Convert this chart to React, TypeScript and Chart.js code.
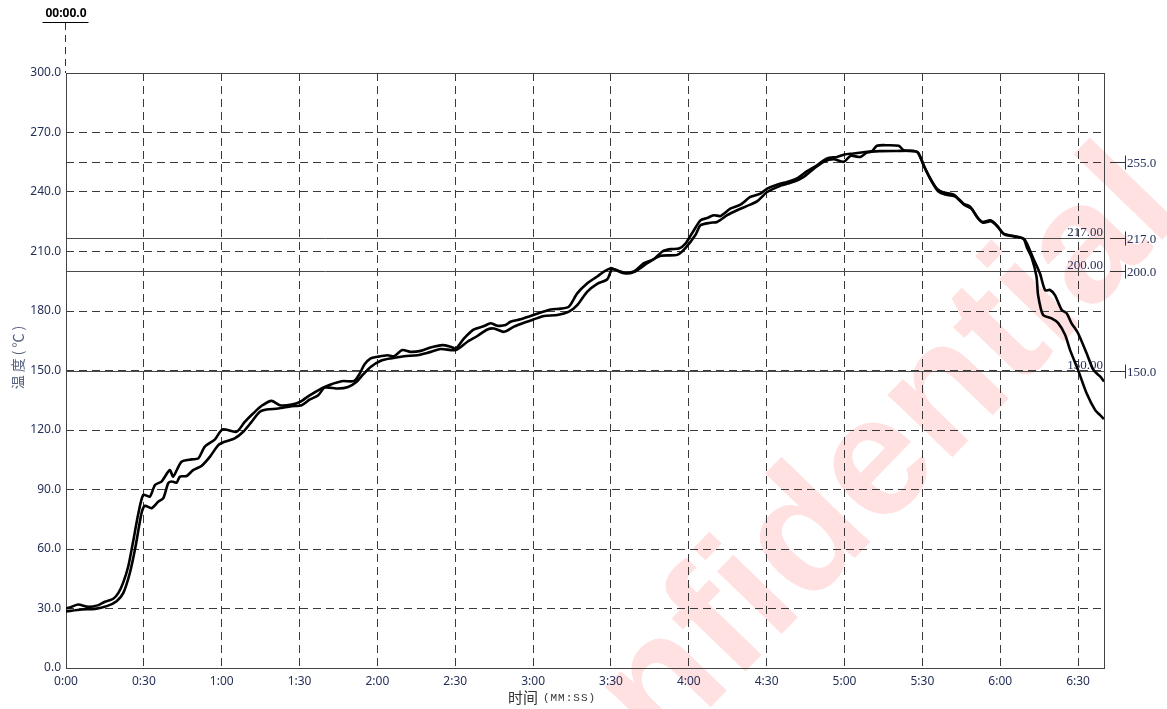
import React, { useEffect, useRef } from "react";
import { Chart, registerables } from "chart.js";

Chart.register(...registerables);

// ---- data (seconds / °C) ----
const timeA = [0, 2, 4.7, 8.6, 12.5, 15, 18.2, 20.2, 22, 24, 26, 27.9, 29.8, 32.3, 34.3, 36.8, 40, 41.3, 44.5, 48.4, 51, 53.5, 57.4, 60.3, 65.7, 68.9, 72.1, 75.4, 79.2, 82.4, 86.9, 90.2, 93.9, 99.7, 106.2, 111, 113, 115, 117.4, 120, 123.9, 126.4, 129.6, 132.8, 136.7, 140.5, 145, 148.2, 150.2, 153.4, 157.2, 161.1, 163.6, 166.2, 169.4, 171.3, 175.2, 179, 182.9, 186.8, 190.6, 193.8, 197, 200.9, 204.7, 207.3, 209.9, 211.1, 215, 218.8, 222.7, 226.5, 229.8, 233, 236.2, 238.7, 241.3, 244.5, 247.1, 249.6, 252.2, 256, 259.9, 263.7, 267.6, 270.2, 274, 277.9, 281.7, 285.6, 289.4, 293.3, 297.1, 300, 303.5, 308, 310.6, 312.5, 316.4, 320.9, 322.8, 326.7, 328.2, 330.5, 333.1, 335.6, 338.2, 342.1, 345.9, 348.5, 351.1, 353, 356.2, 358.7, 361.3, 365.2, 369, 370.3, 372.6, 375.3, 377.3, 379.2, 381.1, 383.7, 385.6, 387.5, 390, 393.3, 395.9, 398.5, 400];
const tempA = [30, 30.8, 32, 30.8, 31.7, 33.4, 34.9, 37.9, 42.9, 51.3, 64.7, 78, 87.3, 86.4, 92.3, 94, 99.8, 96.5, 104, 105.2, 105.7, 111.6, 115.3, 120.3, 119.1, 124.1, 128.3, 132.2, 134.7, 132.5, 132.8, 134.2, 137.5, 141.7, 144.6, 144.7, 148, 153, 156.1, 156.9, 157.7, 157.2, 160.3, 159.4, 159.9, 161.6, 162.8, 162, 161.1, 166.2, 170.7, 172.4, 173.8, 172.6, 172.9, 174.6, 175.8, 177.5, 179.2, 180.8, 181.2, 182.2, 188.9, 194, 197.4, 199.9, 201.6, 201.1, 199.4, 199.9, 204.1, 206.1, 210, 211.2, 211.5, 214, 219.3, 225.7, 226.9, 228.3, 227.9, 231.6, 233.6, 237.5, 239.2, 241.7, 243.7, 245.1, 246.8, 250.5, 253.5, 256.9, 257.7, 258.9, 259.4, 260.2, 260.6, 263.3, 263.6, 263.3, 261.1, 260.6, 260.2, 253.5, 246.8, 241.7, 239.7, 238.7, 234.1, 232.5, 227.4, 224.9, 225.7, 223.2, 219, 217.8, 216.5, 214, 207, 199, 190.5, 190.6, 188, 180.5, 178.9, 173.8, 168.8, 158.7, 150.3, 147, 144.5];

const timeB = [0, 6, 11.2, 15.7, 19.5, 22.1, 24.6, 26.8, 29.1, 30.4, 33, 35.6, 37.5, 39.4, 40.7, 42.6, 43.9, 46.5, 49, 52.2, 55.5, 58.7, 61.2, 65, 68.3, 71.5, 74.7, 77.3, 81.8, 86.9, 90.8, 94, 97.2, 99.7, 104.9, 108.7, 111.9, 114.5, 117.4, 121.3, 125.1, 130.3, 135.4, 139.3, 144.4, 150.2, 154.7, 158.5, 162.4, 164.9, 168.8, 172.6, 176.5, 180.3, 184.2, 189.3, 193.8, 197, 200.9, 204.7, 208.6, 210.5, 215, 218.8, 224, 229.1, 235.5, 238.7, 242.6, 244.5, 248.3, 250.9, 254.8, 258.6, 262.5, 266.3, 270.2, 275.3, 280.4, 284.3, 288.2, 292, 295.8, 299.7, 302.3, 306.1, 308.7, 313.8, 320.2, 326.7, 328.5, 331, 333.5, 336, 338.5, 342.5, 346.2, 349, 351.4, 353.5, 356.5, 359, 361.6, 365.5, 369, 370.3, 372.1, 374, 374.6, 376.5, 379.8, 382.3, 385, 386.9, 390, 393.3, 396.6, 398.5, 400];
const tempB = [28.5, 29.5, 29.8, 31.2, 33.7, 37.9, 47.9, 61.3, 78, 81.8, 80.6, 83.9, 85.6, 93.2, 94, 93.5, 96.5, 96.8, 99.8, 101.9, 106.6, 112.4, 114.1, 115.8, 119.1, 124.1, 129.2, 130.3, 130.8, 132, 132.5, 135.4, 137.5, 141.4, 140.9, 141.7, 144.2, 148, 151.8, 154.9, 156.1, 157.2, 157.7, 158.9, 160.8, 160.3, 164.5, 167.4, 170.7, 171.2, 169.5, 172.1, 174.1, 175.8, 177.5, 178, 179.7, 183, 189.8, 193.7, 196, 201.1, 199, 199.6, 204.1, 207.8, 208.3, 211.7, 218.4, 223.2, 224.5, 224.9, 228.3, 230.8, 233, 235.3, 240, 243.1, 245.1, 247.6, 251.8, 255.2, 256.5, 255.2, 258.2, 257.7, 259.9, 260.6, 260.7, 260.7, 259.5, 252, 245.5, 240.5, 238.8, 237.8, 233.5, 231.5, 226.8, 224.5, 225.2, 222.5, 218.6, 217.5, 216.3, 212, 207, 197.3, 188, 178, 176.3, 174, 168, 160.4, 150.3, 138.5, 130, 127.5, 125.5];

const xMin = 0;
const xMax = 400;
const xStep = 30;
const yMin = 0;
const yMax = 300;
const yStep = 30;

const limitLines = [217, 200, 150];
const limitLabels = ["217.00", "200.00", "150.00"];
const extraDashed = [255];
const sideMarks = [255, 217, 200, 150];
const sideLabels = ["255.0", "217.0", "200.0", "150.0"];

const cursorLabel = "00:00.0";
const cursorTime = 0;
const yTitle = "温度(℃)";
const xTitleMain = "时间";
const xTitleUnit = "(MM:SS)";
const watermarkText = "Confidential";

const NAVY = "#25305a";
const GRID = "#3a3a3a";

function fmtTime(v: number): string {
  const m = Math.floor(v / 60);
  const s = Math.round(v - m * 60);
  return `${m}:${String(s).padStart(2, "0")}`;
}

function toXY(ts: number[], vs: number[]) {
  return ts.map((t, i) => ({ x: t, y: vs[i] }));
}

const decorPlugin = {
  id: "decor",
  beforeDraw(chart: any) {
    const { ctx } = chart;
    ctx.save();
    ctx.translate(812, 535);
    ctx.rotate((-46 * Math.PI) / 180);
    ctx.font = 'bold 170px "Liberation Sans"';
    ctx.fillStyle = "rgba(255, 40, 40, 0.14)";
    ctx.textAlign = "center";
    ctx.textBaseline = "middle";
    ctx.fillText(watermarkText, 0, 0);
    ctx.restore();
  },
  beforeDatasetsDraw(chart: any) {
    const { ctx, chartArea, scales } = chart;
    const { left, right, top, bottom } = chartArea;
    const ys = scales.y;
    ctx.save();
    ctx.strokeStyle = GRID;
    ctx.lineWidth = 1;
    ctx.setLineDash([8, 5]);
    extraDashed.forEach((v) => {
      const y = Math.round(ys.getPixelForValue(v)) + 0.5;
      ctx.beginPath();
      ctx.moveTo(left, y);
      ctx.lineTo(right, y);
      ctx.stroke();
    });
    ctx.setLineDash([]);
    ctx.strokeStyle = "#4a4a4a";
    limitLines.forEach((v) => {
      const y = Math.round(ys.getPixelForValue(v)) + 0.5;
      ctx.beginPath();
      ctx.moveTo(left, y);
      ctx.lineTo(right, y);
      ctx.stroke();
    });
    ctx.strokeStyle = "#444";
    ctx.strokeRect(Math.round(left) + 0.5, Math.round(top) + 0.5, Math.round(right - left), Math.round(bottom - top));
    ctx.font = '13px "Liberation Serif"';
    ctx.fillStyle = NAVY;
    ctx.textAlign = "right";
    ctx.textBaseline = "alphabetic";
    limitLines.forEach((v, i) => {
      const y = ys.getPixelForValue(v);
      ctx.fillText(limitLabels[i], right - 1, y - 2);
    });
    ctx.restore();
  },
  afterDraw(chart: any) {
    const { ctx, chartArea, scales } = chart;
    const { right, top } = chartArea;
    const ys = scales.y;
    const xs = scales.x;
    ctx.save();
    ctx.strokeStyle = "#333";
    ctx.lineWidth = 1;
    ctx.font = '13px "Liberation Serif"';
    ctx.fillStyle = NAVY;
    ctx.textAlign = "left";
    ctx.textBaseline = "middle";
    sideMarks.forEach((v, i) => {
      const y = Math.round(ys.getPixelForValue(v)) + 0.5;
      const x0 = right + 6;
      const x1 = right + 21;
      ctx.beginPath();
      ctx.moveTo(x0, y);
      ctx.lineTo(x1, y);
      ctx.stroke();
      ctx.beginPath();
      ctx.moveTo(x1 + 0.5, y - 7);
      ctx.lineTo(x1 + 0.5, y + 7);
      ctx.stroke();
      ctx.fillText(sideLabels[i], x1 + 2, y + 1);
    });
    const cx = Math.round(xs.getPixelForValue(cursorTime)) - 0.5;
    ctx.font = 'bold 12px "Noto Sans"';
    ctx.fillStyle = "#000";
    ctx.textAlign = "center";
    ctx.textBaseline = "alphabetic";
    ctx.fillText(cursorLabel, cx + 0.5, 17);
    ctx.strokeStyle = "#000";
    ctx.beginPath();
    ctx.moveTo(cx - 23, 22.5);
    ctx.lineTo(cx + 23, 22.5);
    ctx.stroke();
    ctx.strokeStyle = "#333";
    ctx.setLineDash([7, 5]);
    ctx.beginPath();
    ctx.moveTo(cx, 23);
    ctx.lineTo(cx, top);
    ctx.stroke();
    ctx.setLineDash([]);
    // y title
    ctx.save();
    ctx.translate(18, 356);
    ctx.rotate(-Math.PI / 2);
    ctx.font = '14px "Noto Sans CJK SC"';
    ctx.fillStyle = "#55607e";
    ctx.textAlign = "center";
    ctx.textBaseline = "middle";
    try { (ctx as any).letterSpacing = "3px"; } catch (e) {}
    ctx.fillText(yTitle, 0, 0);
    try { (ctx as any).letterSpacing = "0px"; } catch (e) {}
    ctx.restore();
    // x title
    ctx.font = '15px "Noto Sans CJK SC"';
    const w1 = ctx.measureText(xTitleMain).width;
    ctx.font = '11px "Liberation Mono"';
    try { (ctx as any).letterSpacing = "1px"; } catch (e) {}
    const w2 = ctx.measureText(xTitleUnit).width;
    const gap = 5;
    const startX = 552 - (w1 + gap + w2) / 2;
    ctx.fillStyle = "#333";
    ctx.textAlign = "left";
    ctx.textBaseline = "middle";
    ctx.fillText(xTitleUnit, startX + w1 + gap, 698);
    try { (ctx as any).letterSpacing = "0px"; } catch (e) {}
    ctx.font = '15px "Noto Sans CJK SC"';
    ctx.fillText(xTitleMain, startX, 697);
    ctx.restore();
  },
};

export default function App() {
  const canvasRef = useRef<HTMLCanvasElement | null>(null);

  useEffect(() => {
    document.body.style.margin = "0";
    const canvas = canvasRef.current;
    if (!canvas) return;
    const tickFont = { family: '"Noto Sans"', size: 12 };
    const chart = new Chart(canvas, {
      type: "line",
      data: {
        datasets: [
          {
            data: toXY(timeA, tempA),
            borderColor: "#000",
            borderWidth: 2.6,
            pointRadius: 0,
            tension: 0.25,
            fill: false,
          },
          {
            data: toXY(timeB, tempB),
            borderColor: "#000",
            borderWidth: 2.6,
            pointRadius: 0,
            tension: 0.25,
            fill: false,
          },
        ],
      },
      options: {
        animation: false,
        responsive: true,
        maintainAspectRatio: false,
        layout: { padding: { left: 0, top: 73, right: 63, bottom: 0 } },
        plugins: {
          legend: { display: false },
          tooltip: { enabled: false },
          title: { display: false },
        },
        scales: {
          x: {
            type: "linear",
            min: xMin,
            max: xMax,
            afterFit: (s: any) => {
              s.height = 41;
            },
            ticks: {
              stepSize: xStep,
              includeBounds: false,
              autoSkip: false,
              maxRotation: 0,
              callback: (v: any) => fmtTime(Number(v)),
              font: tickFont,
              color: NAVY,
              padding: 6,
            },
            grid: { color: GRID, lineWidth: 1, drawTicks: false },
            border: { display: false, dash: [8, 5] },
          },
          y: {
            type: "linear",
            min: yMin,
            max: yMax,
            afterFit: (s: any) => {
              s.width = 66;
            },
            ticks: {
              stepSize: yStep,
              includeBounds: false,
              autoSkip: false,
              callback: (v: any) => Number(v).toFixed(1),
              font: tickFont,
              color: NAVY,
              padding: 5,
            },
            grid: { color: GRID, lineWidth: 1, drawTicks: false },
            border: { display: false, dash: [8, 5] },
          },
        },
      },
      plugins: [decorPlugin],
    });
    return () => chart.destroy();
  }, []);

  return (
    <div style={{ width: 1167, height: 709, position: "relative", background: "#fff" }}>
      <canvas ref={canvasRef} />
    </div>
  );
}
